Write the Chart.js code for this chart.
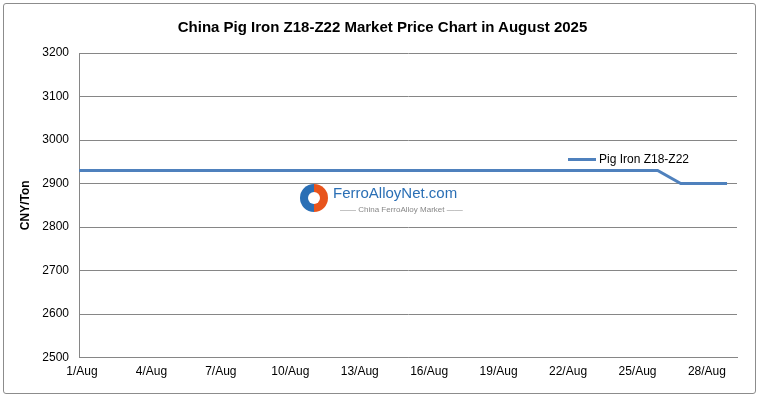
<!DOCTYPE html>
<html>
<head>
<meta charset="utf-8">
<script src="https://cdn.jsdelivr.net/npm/chart.js@4/dist/chart.umd.min.js"></script>
<style>
body { margin:0; background:#fff; font-family: Arial, "Liberation Sans", sans-serif; }
#wrap { position:relative; width:765px; height:403px; }
#frame { position:absolute; left:3px; top:3px; width:753px; height:391px; border:1px solid #8c8c8c; border-radius:3px; box-sizing:border-box; }
#title { position:absolute; left:0; width:765px; top:18px; text-align:center; font-weight:bold; font-size:15px; color:#000; }
#legend { position:absolute; left:568px; top:152px; font-size:12px; color:#000; }
#legend span.sw { display:inline-block; width:28px; height:3px; background:#4f81bd; vertical-align:middle; margin-right:3px; }
#wm { position:absolute; left:300px; top:184px; }
#wm .logo { position:absolute; left:0; top:0; width:28px; height:28px; border-radius:50%; background:conic-gradient(#e8541c 0 50%, #2a6fb5 50% 100%); }
#wm .logo:after { content:""; position:absolute; left:8px; top:8px; width:12px; height:12px; border-radius:50%; background:#fff; }
#wm .name { position:absolute; left:33px; top:0; font-size:15px; color:#2a6fb5; white-space:nowrap; }
#wm .sub { position:absolute; left:40px; top:21px; font-size:8px; color:#888; white-space:nowrap; }
canvas { position:absolute; left:0; top:0; }
</style>
</head>
<body>
<div id="wrap">
  <canvas id="c" width="765" height="403"></canvas>
  <div id="frame"></div>
  <div id="title">China Pig Iron Z18-Z22 Market Price Chart in August 2025</div>
  <div id="legend"><span class="sw"></span>Pig Iron Z18-Z22</div>
  <div id="wm"><div class="logo"></div><div class="name">FerroAlloyNet.com</div><div class="sub">—— China FerroAlloy Market ——</div></div>
</div>
<script>
var days = [1,2,3,4,5,6,7,8,9,10,11,12,13,14,15,16,17,18,19,20,21,22,23,24,25,26,27,28,29];
var prices = [2930,2930,2930,2930,2930,2930,2930,2930,2930,2930,2930,2930,2930,2930,2930,2930,2930,2930,2930,2930,2930,2930,2930,2930,2930,2930,2900,2900,2900];
var monthLabel = "Aug";
var seriesName = "Pig Iron Z18-Z22";

var points = [];
for (var i = 0; i < days.length; i++) points.push({x: days[i], y: prices[i]});

var ctx = document.getElementById("c").getContext("2d");
new Chart(ctx, {
	type: "line",
	data: { datasets: [{
		label: seriesName,
		data: points,
		borderColor: "#4f81bd",
		borderWidth: 3,
		pointRadius: 0,
		tension: 0,
		fill: false
	}]},
	options: {
		responsive: false,
		animation: false,
		layout: { padding: { left: 18, right: 28, top: 53, bottom: 17 } },
		plugins: { legend: { display: false }, tooltip: { enabled: false } },
		scales: {
			x: {
				type: "linear",
				min: 1, max: 29.43,
				afterBuildTicks: function(axis) {
					var t = [];
					for (var d = 1; d <= 28; d += 3) t.push({value: d});
					axis.ticks = t;
				},
				ticks: {
					callback: function(v) { return v + "/" + monthLabel; },
					color: "#000", font: { family: "Arial", size: 12 },
					maxRotation: 0, autoSkip: false, padding: 7, labelOffset: 3
				},
				grid: { display: false, drawTicks: false },
				border: { color: "#868686", width: 1 }
			},
			y: {
				min: 2500, max: 3200,
				afterFit: function(axis) { axis.width = 61; },
				ticks: { stepSize: 100, color: "#000", font: { family: "Arial", size: 12 }, padding: 10,
					callback: function(v) { return String(v); } },
				grid: { color: "#868686", drawTicks: false },
				border: { display: true, color: "#868686" },
				title: { display: true, text: "CNY/Ton", color: "#000", font: { family: "Arial", size: 12, weight: "bold" }, padding: 0 }
			}
		}
	}
});
</script>
</body>
</html>
